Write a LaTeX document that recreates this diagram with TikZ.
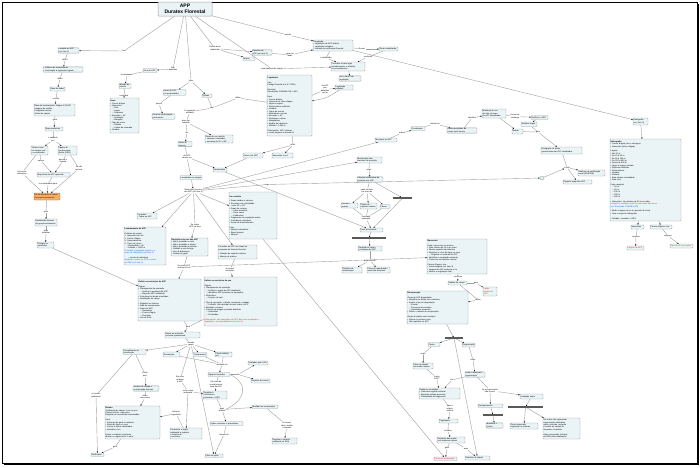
\documentclass[tikz,border=0pt]{standalone}
\usepackage{fontspec}
\setmainfont{Liberation Sans}
\usetikzlibrary{arrows.meta}
\definecolor{bxfill}{HTML}{EAF3F5}
\definecolor{bxdraw}{HTML}{98A4A8}
\definecolor{lncol}{HTML}{A0A0A0}
\definecolor{orfill}{HTML}{F9AE6B}
\definecolor{rtxt}{HTML}{E8232A}
\definecolor{btxt}{HTML}{2060D8}
\pgfdeclarelayer{back}
\pgfdeclarelayer{bg}
\pgfsetlayers{back,bg,main}
\newcommand\tn{\fontsize{2}{2.4}\selectfont}
\tikzset{
 box/.style={draw=bxdraw, fill=bxfill, line width=0.35pt, rounded corners=0.8pt, inner xsep=0.7pt, inner ysep=0.5pt, font=\tn, align=left},
 lbl/.style={inner sep=0.3pt, font=\tn, align=center},
 ln/.style={draw=lncol, line width=0.4pt},
 ar/.style={ln, -{Stealth[length=1.5pt,width=1.3pt,black]}},
 bar/.style={fill=black!65, inner sep=0pt, minimum height=1.3pt},
}
\newcommand\bx[7][]{%
 \pgfmathsetmacro\bw{#5-#3}\pgfmathsetmacro\bh{#6-#4}\pgfmathsetmacro\tw{#5-#3-1.4}%
 \node[box,#1,minimum width=\bw pt,minimum height=\bh pt,text width=\tw pt] (#2) at ({(#3+#5)/2},{(#4+#6)/2}) {#7};}
\newcommand\lb[4]{\node[lbl] (#1) at (#2,#3) {#4};}
\newcommand\br[4]{\pgfmathsetmacro\bw{#3-#2}\node[bar,minimum width=\bw pt] (#1) at ({(#2+#3)/2},#4) {};}
\newcommand\cnL[2]{\draw[ln] (#1)--(#2);}
\newcommand\cnA[2]{\draw[ar] (#1)--(#2);}
\begin{document}
\begin{tikzpicture}[x=1pt,y=-1pt]
\useasboundingbox (0,0) rectangle (700,467);
\begin{pgfonlayer}{back}
\fill[white] (0,0) rectangle (700,467);
\end{pgfonlayer}
\draw[line width=0.9pt] (2,2) rectangle (697,463);
\draw[line width=1.6pt] (3.5,464.3) -- (698.3,464.3) -- (698.3,3.5);

% title
\node[box,align=center,minimum width=54pt,minimum height=14pt,font=\fontsize{5}{5.8}\selectfont\bfseries,line width=0.5pt] (T) at (185,9) {APP\\Duratex Florestal};

% left column
\lb{J0}{124}{51}{tem}
\bx{A}{58}{48}{79}{53}{Levantar as APP\\(ver item 1)}
\lb{L41}{65}{60}{define}
\bx{Ba}{43}{67}{83}{72}{• Critérios de levantamento\\• Contemplar a legislação vigente}
\lb{L42}{60}{79}{utiliza}
\bx{Bb}{50}{87}{65}{91}{Base de dados}
\lb{L43}{56}{99}{contém}
\bx{Bc}{34}{104}{75}{116}{Base de levantamento: Mapas 1:10.000\\Imagens de satélite\\Fotografias aéreas\\Visitas de campo}
\lb{L44}{55}{120}{gera}
\bx{Bd}{45}{127}{63}{131}{Mapa preliminar}
\lb{L45}{53}{139.5}{é validado\\por}
\bx{Be}{31}{146}{48}{155}{Técnico local\\em campo com\\o coordenador}
\bx{Bf}{58}{146}{77}{155}{Equipe de\\geoprocessa-\\mento (GEO)}
\lb{L46}{22}{173}{Se houver\\alterações}
\lb{L47}{41}{161}{aprova}
\lb{L48}{63}{161}{aprova e\\registra}
\lb{L49}{79}{168.5}{Se não\\aprovar}
\bx{Bg}{37}{172.5}{70}{177}{Mapa final de APP aprovado}
\lb{L50}{48}{184}{é encaminhado para}
\bx[fill=orfill,draw=orange!80!black]{O}{34}{193}{60}{200}{Se há alteração no mapa\\de geoprocessamento}
\lb{L51}{46}{212}{gera}
\bx{Bh}{35}{219}{57}{226}{Atualização da base\\de geoprocessamento}
\lb{L52}{46}{232}{após\\atualizar}
\bx{Bi}{37}{242}{54}{248}{Divulgar às\\operações}

% area cluster
\lb{L2}{173}{69}{São\\definidas}
\bx{B1}{143}{68.5}{157}{72.5}{Área de APP}
\lb{L78}{127}{75}{levantamento}
\bx{Bm}{119}{83.5}{131}{88.5}{Método de\\cálculo}
\lb{L79}{124}{95.5}{considera}
\bx{Blist}{110}{98}{139}{133}{\textbf{Itens}\\• Cursos d'água\\• Nascentes\\\hspace*{2pt}– Rios\\\hspace*{2pt}– Lagos\\\hspace*{2pt}– Represas\\• Encostas > 45°\\\hspace*{2pt}– Restingas\\\hspace*{2pt}– Mangues\\• Topo de morro\\\hspace*{2pt}– Altitude\\\hspace*{2pt}– Linhas de cumeada\\• Veredas}
\lb{L3}{191}{81}{tipos}
\bx{B2}{163}{90}{186}{95}{Áreas de APP\\em propriedades}
\bx{B3}{202}{94}{212}{97.5}{Divisas}
\lb{L4}{159}{104}{possui}
\bx{B4}{152}{114}{175}{119}{Áreas de preservação\\permanente}
\lb{L8}{238}{98}{define}
\lb{L5}{212}{108}{com}
\lb{L6}{190}{112}{A vegetação\\existente}
\lb{L7}{186}{122}{deve ser\\mantida}
\lb{L77}{187}{133}{em}
\bx{B5}{178}{141.5}{192}{146.5}{Áreas de\\reserva}
\bx{B6}{205}{135}{233}{143}{Áreas de uso restrito:\\• várzeas e banhados\\• encostas de 25° a 45°}
\lb{Las}{187}{157}{As APP\\devem ser}
\bx{Bd2}{213}{168}{227}{172}{Demarcadas}
\bx{Be2}{180}{175.5}{202}{179.5}{Levantadas em campo}
\lb{H}{193.5}{191}{Restrições para uso\\das APP (ver item 4)}
\bx{B78}{243}{153}{263}{158}{Áreas com APP}
\bx{B77}{272}{153}{293}{158}{Nascentes e rios}
\lb{L75}{293}{145}{inclui}
\bx{Bbig}{267}{75}{312}{136}{\textbf{Legislação}\\~\\Leis\\Código Florestal (Lei 4.771/65)\\~\\Decretos\\Resoluções CONAMA 302 e 303\\~\\Itens\\• Cursos d'água\\• Nascentes e olhos d'água\\• Lagos e lagoas\\• Reservatórios artificiais\\• Veredas\\• Topos de morros\\• Montanhas e serras\\• Encostas > 45°\\• Restingas e dunas\\• Manguezais\\• Bordas de tabuleiros\\• Altitude > 1.800 m\\~\\Observação: APP urbanas\\e rurais seguem a mesma lei}
\lb{L73}{325}{89.5}{As APP\\são\\definidas\\por lei}
\bx{B75}{335}{85}{353}{90}{Legislação\\estadual}
\lb{L74}{326}{98}{e}

% top right
\lb{L9}{215}{48.5}{Novas áreas\\adquiridas}
\bx{B7}{252}{50}{272}{55}{Relatório de\\APP (ver item 5)}
\bx{B8}{243}{57}{255}{60.5}{Mapas}
\lb{L10}{290}{55}{gera um\\laudo}
\lb{L11}{288}{35}{atende}
\lb{L12}{272}{69}{Levantamento de campo}
\bx{B9}{313}{40}{353}{51}{Regulação:\\• Legislação de APP federal\\• Legislação estadual\\• Normas de certificação florestal}
\lb{L13}{326}{58}{é atualizada}
\bx{B10}{331}{62}{365}{71}{Consultar a base legal\\periodicamente e atualizar\\os procedimentos}
\bx{B11}{339}{76}{361}{81}{Ver o item 2 de\\legislação}
\lb{L14}{362}{49}{Exceto}
\bx{B12}{379}{47}{398}{51}{Áreas cadastradas}
\lb{L15}{368}{57}{conforme}

% hydro
\bx{B13}{633}{118}{648}{125}{Hidrografia\\(ver item 3)}
\bx{B14}{610}{139}{681}{221}{\textbf{Hidrografia}\\• Cursos d'água (rios e córregos)\\• Nascentes (olhos d'água)\\~\\Largura\\• Até 10 m\\• De 10 a 50 m\\• De 50 a 200 m\\• De 200 a 600 m\\• Acima de 600 m\\• Lagos e lagoas naturais\\• Represas artificiais\\• Reservatórios\\• Veredas\\• Várzeas\\• Área urbana consolidada\\• Área rural\\~\\Faixa marginal\\\hspace*{2pt}– 30 m\\\hspace*{2pt}– 50 m\\\hspace*{2pt}– 100 m\\\hspace*{2pt}– 200 m\\\hspace*{2pt}– 500 m\\~\\• Nascentes: raio mínimo de 50 m ao redor\\\textcolor{rtxt}{a largura é medida a partir do nível mais alto do rio}\\\textcolor{btxt}{(ver Resolução CONAMA 303)}\\~\\• Medir a largura do rio no período de cheia\\• Usar o mapa de hidrografia\\~\\• Dúvidas: consultar o GEO}
\bx{B15}{631}{225}{644}{229}{Nascentes}
\bx{B16}{650}{225}{672}{229}{Cursos d'água e rios}
\lb{L17}{636}{237}{seguem}
\lb{L18}{668}{236}{seguem}
\bx[text=rtxt]{R1}{627}{246}{644}{250}{Largura de APP}
\bx[text=rtxt]{R2}{670}{244}{693}{248}{Raio de 50 m ao redor}

% middle right
\bx{B17}{482}{109}{506}{118}{Mudança de uso\\do solo em área\\de APP identificada}
\lb{L19}{515}{116.5}{Se houver\\mudança}
\bx{B18}{531}{115.5}{548}{119.5}{Notificar o GEO}
\bx{B20}{521}{122}{537}{126.5}{Atualizar mapa}
\bx{B19}{512}{129}{523}{134}{Mapas}
\lb{L20}{538}{132}{gera}
\bx{B21}{541}{147}{582}{154}{Divulgação às áreas\\operacionais das APP atualizadas}
\lb{J1}{567}{167.5}{é feita}
\bx{B22}{578}{170}{605}{176}{Auditoria de certificação\\anual (NOSPRE)}
\bx{B23}{563}{180}{592}{184}{Registro anual das APP}
\node[circle,draw=bxdraw,fill=bxfill,minimum size=4pt,inner sep=0pt] (C1) at (542,178) {};
\bx{B24}{411}{126.5}{425}{130.5}{Fiscalização}
\lb{L21}{435}{124}{através de}
\bx{B25}{447}{128}{477}{133}{Visitas periódicas de\\campo pelo técnico}
\lb{L22}{472}{118}{identifica}
\lb{L23}{402}{133}{realiza}
\bx{B26}{375}{138}{397}{142}{Monitorar as APP}

% middle
\bx{B27}{357}{157}{382}{163}{Manutenção das\\barreiras de proteção}
\lb{L24}{369}{169.5}{exige}
\bx{B28}{357}{177}{383}{182}{Planejar as barreiras de\\proteção nas APP}
\lb{L25}{367}{191}{pode ser feito\\por meio de}
\bx{B29}{341}{203}{358}{208}{Cercas e\\aceiros}
\bx{B30}{360}{203}{377}{209}{Plantio de\\espécies nativas}
\bx{B31}{380}{204.5}{390}{208.5}{Placas}
\br{K1}{393}{412}{198}
\lb{L26}{366}{218}{resultado\\esperado}
\bx{B32}{360}{228}{383}{232}{Fixar as barreiras}
\br{K2}{352}{386}{238}
\bx{B33}{358}{246}{382}{251}{Registrar as ações\\no sistema de APP}
\lb{L27}{370}{260.5}{para controle}
\bx{B34}{342}{267}{362}{273}{Relatório de\\manutenção}
\bx{B35}{367}{267}{390}{273}{Plano de manutenção\\anual das barreiras}
\lb{L28}{267}{184.5}{exige}

% lower right
\bx{B36}{427}{239}{487}{274}{\textbf{Nascentes}\\~\\Isolar com cercas ou aceiros\\• Raio mínimo de 50 m ao redor\\• Mesmo quando intermitentes\\• Monitorar o nível da água na seca\\\hspace*{2pt}– Registrar no sistema de APP\\• Identificar a vegetação existente\\• Conservar as espécies nativas\\~\\Cursos d'água e rios\\• Faixa marginal (ver item 3)\\• Largura da APP conforme o rio\\• Manter a vegetação ciliar}
\lb{L29}{458}{277}{conforme}
\bx{B37}{448}{281}{467}{285}{Análise de campo}
\lb{L30}{476}{283}{gera}
\bx[text=rtxt]{R3}{483}{287}{497}{296}{Laudo\\técnico de\\APP}
\lb{L31}{478}{300}{define}
\bx{B38}{407}{291}{468}{324}{\textbf{Recuperação}\\~\\Áreas de APP degradadas\\• Identificar as áreas sem cobertura\\• Avaliar o tipo de degradação\\\hspace*{2pt}– Erosão\\\hspace*{2pt}– Presença de eucalipto\\\hspace*{2pt}– Gramíneas invasoras\\• Definir o método de recuperação\\~\\Áreas de plantio com eucalipto\\• Retirar no próximo corte\\• Não replantar na APP}
\br{K3}{445}{463}{338}
\bx{B41}{428}{342.5}{440}{346.5}{Plantio}
\bx{B42}{462}{343}{475}{347}{Regeneração}
\lb{L33}{423}{354}{exige}
\lb{L34}{473}{360}{exige}
\bx{B43}{413}{363}{433}{369}{Plano de plantio\\de mudas nativas}
\bx{B44}{465}{372}{485}{377}{Isolar a área para\\regeneração}
\lb{L35}{437}{378}{existe\\APP?}
\lb{L36}{452}{380}{sim}
\lb{L37}{490}{390.5}{Se a regeneração\\não ocorrer}
\bx{B45}{419}{388}{460}{399}{Avaliar as condições:\\• Cobertura vegetal existente\\• Espécies nativas presentes\\• Proximidade de fragmentos}
\bx{B46}{478}{404}{503}{407.5}{Enriquecimento}
\br{K5}{483}{503}{415}
\bx{B50}{486}{423}{503}{428}{Monitorar o\\plantio}
\bx{B47}{520}{394}{543}{399}{Avaliação anual}
\br{K4}{508}{543}{407}
\bx{B48}{510}{423}{538}{429}{Área recuperada\\registrada no sistema}
\bx{B49}{543}{418}{580}{439}{Se a área não apresentar\\regeneração satisfatória\\após o período, replantar\\e avaliar as causas do\\insucesso no plantio\\~\\Após recuperada, informar\\ao GEO para atualização}
\lb{L38}{450}{408.5}{após o\\plantio,\\verificar}
\bx{B51}{439}{419}{458}{423}{Pegamento}
\lb{L39}{448}{431}{se baixo}
\bx{B52}{437}{437}{465}{443}{Replantio das mudas\\com espécies nativas}
\lb{L40}{447}{448.5}{gera}
\lb{L41b}{466}{448.5}{após}
\bx[text=rtxt]{R4}{434}{457}{457}{460.5}{Custo de recuperação}
\bx{B53}{465}{456}{490}{460}{Relatório de plantio}

% left middle
\bx{Bcons}{137}{213}{157}{219}{Consultar:\\• Todas as APP}
\bx{B39}{124}{227}{166}{265}{\textbf{Levantamento de APP}\\~\\Critérios de campo:\\1. Nascentes de rios\\2. Cursos d'água\\3. Represamentos\\4. Topos de morro\\\hspace*{2pt}– Declividade > 45°\\\hspace*{2pt}– Altitude > 1.800 m\\\textcolor{btxt}{Consultar a legislação vigente e o}\\\textcolor{btxt}{mapa de hidrografia (ver item 3)}\\~\\\hspace*{4pt}• Locais de referência\\\textcolor{btxt}{Registrar o ponto no GPS e enviar}\\\textcolor{btxt}{ao GEO (ver item 1)}}
\lb{L54}{195}{225.5}{Se existe\\APP na área}
\bx{B55}{171}{238}{208}{256}{\textbf{Restrições de uso das APP}\\• Não é permitido o corte\\• Não é permitido o plantio\\• Não é permitida a colheita\\• Proibido o uso de fogo\\• Uso de defensivos\\• Pastejo de gado}
\lb{L32}{184}{267}{Se existir APP\\na área de uso}
\bx{B56}{229}{192}{277}{239}{\textbf{Uso restrito}\\~\\• Áreas úmidas e várzeas\\• Encostas com declividade\\\hspace*{2pt}entre 25° e 45°\\• Áreas de recarga\\\hspace*{2pt}– Solos arenosos\\\hspace*{2pt}– Solos rasos\\\hspace*{2pt}– Cabeceiras\\• Fragmentos de vegetação nativa\\• Corredores ecológicos\\• Zonas de amortecimento\\~\\Usos\\• Manejo sustentável\\• Baixo impacto\\• Manual}
\bx{B57}{218}{245}{257}{259}{Consultar as APP nas áreas do\\programa de fomento florestal\\~\\• Relação de espécies nativas\\• Manejo de nativas}
\lb{L56}{230}{270}{se houver\\restrições}
\bx{B54}{138}{279}{201}{321}{\textbf{Definir as restrições de APP}\\~\\Etapas\\• Planejamento da operação\\\hspace*{2pt}– Verificar a presença de APP\\\hspace*{2pt}– Mapa de APP atualizado\\• Comunicar às áreas envolvidas\\• Sinalização de campo\\~\\• Registrar no sistema\\• Data do levantamento\\• Áreas de APP\\\hspace*{2pt}– Nascentes\\\hspace*{2pt}– Cursos d'água\\\hspace*{2pt}– Encostas\\• Uso do SGA}
\bx{B40}{204}{277}{277}{326}{\textbf{Definir as restrições de uso}\\~\\Etapas\\• Planejamento da operação\\\hspace*{2pt}– Verificar o mapa de APP atualizado\\\hspace*{2pt}– Identificar APP próximas às operações\\• Silvicultura\\\hspace*{2pt}– Preparo de solo\\~\\• Tipo de operação: colheita, transporte, estradas\\\hspace*{2pt}– Colheita: não derrubar árvores sobre a APP\\• Estradas e aceiros\\• Controle de pragas e plantas daninhas\\\hspace*{2pt}– Herbicidas\\\hspace*{2pt}– Formicidas\\~\\\textcolor{rtxt}{Observação: nas operações em APP deve ser respeitada a}\\\textcolor{rtxt}{legislação e os procedimentos (ver item 2)}}

% lower left
\lb{L58}{188}{327}{gera}
\bx{B58}{165}{332}{200}{338}{Enviar as restrições\\às áreas operacionais}
\lb{L59}{191}{344}{normas\\gerais}
\bx{B59}{123}{349}{146}{354.5}{Procedimento de\\fiscalização}
\bx{B60}{163}{352}{180}{357}{Orientações}
\bx{B61}{193}{352.5}{207}{356.5}{Treinamentos}
\bx{B62}{215}{352.5}{232}{356.5}{Placas indicativas}
\lb{L67}{222}{364.5}{resultam em}
\bx{B67}{208}{372.5}{230}{376.5}{Equipes treinadas}
\lb{L68}{238}{374.5}{são}
\bx{B68}{248}{361}{268}{365}{Avaliados pelo SGA}
\bx{B69}{251}{379}{270}{383}{Registro de treinos}
\lb{L69}{216}{384.5}{Em caso de\\ocorrência em\\área de APP}
\bx{B70}{203}{391}{227}{399}{Registrar a\\ocorrência e\\comunicar o GEO}
\lb{L70}{222}{409.5}{após\\análise}
\bx{B71}{252}{405}{278}{408.5}{Medidas de recuperação}
\lb{L71}{287}{425.5}{se houver\\dano, avaliar\\o impacto}
\bx{B72}{272}{438}{297}{444}{Registrar o impacto\\ambiental no SGA}
\bx{B73}{210}{421.5}{243}{425.5}{Ações corretivas e preventivas}
\lb{L72}{224}{434.5}{através do}
\bx{B74}{205}{454}{223}{457.5}{Plano de ação}
\lb{L65}{180}{379.5}{Em caso\\de dano\\à APP}
\lb{L66}{188}{391.5}{se for crime\\ambiental}
\bx{B66}{170}{428}{202}{439}{Comunicar o órgão\\ambiental e registrar\\o boletim de\\ocorrência}
\lb{L64}{176}{413.5}{informar\\à gerência}
\lb{L60}{145}{374.5}{é feito\\pelo}
\bx{B63}{133}{386}{159}{391}{Técnico de campo e\\coordenação florestal}
\lb{L61}{145}{397}{utiliza\\como base}
\bx{B64}{105}{406}{160}{439}{\textbf{Roteiro}\\Verificação de campo 1 vez ao ano\\Pontos críticos: nascentes\\Registrar as ocorrências encontradas\\~\\Itens\\• Presença de gado ou animais\\• Sinais de fogo ou corte\\• Cercas e placas danificadas\\• Invasões e lixo\\~\\Enviar o relatório à gerência\\Manter os registros por 5 anos}
\lb{L62}{96}{395.5}{se houver\\problemas}
\lb{L63}{115}{447}{gera}
\bx{B65}{91}{453}{104}{456.5}{Notificação}

\begin{pgfonlayer}{bg}
% left column
\cnL{T}{J0}\cnA{J0}{A}
\cnL{A}{L41}\cnA{L41}{Ba}
\cnL{Ba}{L42}\cnA{L42}{Bb}
\cnL{Bb}{L43}\cnA{L43}{Bc}
\cnL{Bc}{L44}\cnA{L44}{Bd}
\cnL{Bd}{L45}\cnA{L45}{Be}\cnA{L45}{Bf}
\cnL{Be}{L47}\cnA{L47}{Bg}
\cnL{Bf}{L48}\cnA{L48}{Bg}
\cnL{Be}{L46}\cnA{L46}{O}
\cnL{Bf}{L49}\cnA{L49}{O}
\cnL{Bg}{L50}\cnA{L50}{O}
\cnL{O}{L51}\cnA{L51}{Bh}
\cnL{Bh}{L52}\cnA{L52}{Bi}
\cnA{Bi}{B54}
% area cluster
\cnL{T}{L2}\cnA{L2}{B1}
\cnL{B1}{L78}\cnA{L78}{Bm}
\cnL{Bm}{L79}\cnA{L79}{Blist}
\cnL{T}{L3}\cnA{L3}{B2}\cnA{L3}{B3}
\cnL{B2}{L4}\cnA{L4}{B4}
\cnL{Bbig}{L8}\cnL{L8}{L5}\cnL{B3}{L5}\cnL{L5}{L6}
\cnL{L6}{L7}\cnL{L7}{L77}\cnA{L77}{B5}\cnA{L7}{B6}
\cnL{B5}{Las}\cnA{Las}{Be2}\cnA{Las}{Bd2}
\cnA{Be2}{H}
\cnA{B78}{Bd2}
\draw[ar] (Bd2) -- (B32);
\cnL{Bbig}{L75}\cnA{L75}{B77}\cnA{L75}{B78}
\cnL{Bbig}{L73}\cnA{L73}{B75}\cnL{B75}{L74}\cnA{L74}{Bbig}
% top right
\cnL{T}{L9}\cnA{L9}{B7}\cnA{L9}{B8}
\cnL{B7}{L10}\cnA{L10}{B9}
\cnL{T}{L11}\cnA{L11}{B9}
\cnL{T}{L12}\cnA{L12}{B10}
\cnL{B9}{L13}\cnA{L13}{B10}\cnA{B10}{B11}
\cnL{B9}{L14}\cnA{L14}{B12}
\cnL{B12}{L15}\cnA{L15}{B10}
\cnA{B9}{B13}\cnA{B13}{B14}
\cnA{B14}{B15}\cnA{B14}{B16}
\cnL{B15}{L17}\cnA{L17}{R1}
\cnL{B16}{L18}\cnA{L18}{R2}
% hub
\cnA{H}{Bcons}\cnA{H}{B39}
\cnL{H}{L54}\cnA{L54}{B55}
\cnA{H}{B56}\cnA{H}{B57}
\cnA{H}{B27}\cnA{H}{B26}
\cnL{H}{L28}\cnA{L28}{C1}
\cnA{C1}{J1}
\draw[ar] ([xshift=10pt]B56.south) -- (R4);
% middle right
\cnL{B26}{L23}\cnA{L23}{B24}
\cnL{B24}{L21}\cnA{L21}{B25}
\cnL{B25}{L22}\cnA{L22}{B17}
\cnL{B17}{L19}\cnA{L19}{B18}
\cnA{B18}{B20}\cnA{B17}{B19}
\cnL{B20}{L20}\cnL{B19}{L20}\cnA{L20}{B21}
\cnL{B21}{J1}\cnA{J1}{B22}\cnA{J1}{B23}
% middle
\cnL{B27}{L24}\cnA{L24}{B28}
\cnL{B28}{L25}\cnA{L25}{B29}\cnA{L25}{B30}\cnA{L25}{B31}
\cnA{B28}{K1}
\cnL{B29}{L26}\cnL{B30}{L26}\cnL{B31}{L26}
\cnA{L26}{B32}\cnA{K1}{B32}
\cnA{B32}{K2}\cnA{K2}{B33}
\cnL{B33}{L27}\cnA{L27}{B34}\cnA{L27}{B35}
% lower right
\cnL{B55}{L32}\cnA{L32}{B36}\cnA{L32}{B54}
\cnL{B57}{L56}\cnA{L56}{B40}
\cnL{B36}{L29}\cnA{L29}{B37}
\cnL{B37}{L30}\cnA{L30}{R3}
\cnL{B37}{L31}\cnA{L31}{B38}
\cnA{B38}{K3}
\cnA{K3}{B41}\cnA{K3}{B42}\cnA{K3}{B53}
\cnL{B41}{L33}\cnA{L33}{B43}
\cnL{B42}{L34}\cnA{L34}{B44}
\cnL{B43}{L35}\cnA{L35}{B45}
\cnL{B44}{L36}\cnA{L36}{B45}
\cnL{B44}{L37}\cnA{L37}{B47}\cnA{L37}{B46}
\cnA{B46}{K5}\cnA{K5}{B50}
\cnA{B47}{K4}\cnA{K4}{B48}\cnA{K4}{B49}
\cnL{B45}{L38}\cnA{L38}{B51}
\cnL{B51}{L39}\cnA{L39}{B52}
\cnL{B52}{L40}\cnA{L40}{R4}
\cnL{B52}{L41b}\cnA{L41b}{B53}
% lower left
\cnL{B54}{L58}\cnL{B40}{L58}\cnA{L58}{B58}
\cnL{B58}{L59}
\cnA{L59}{B59}\cnA{L59}{B60}\cnA{L59}{B61}\cnA{L59}{B62}\cnA{L59}{B74}
\cnL{B61}{L67}\cnL{B62}{L67}\cnL{B60}{L67}\cnA{L67}{B67}
\cnL{B67}{L68}\cnA{L68}{B68}\cnA{L68}{B69}
\cnL{B67}{L69}\cnA{L69}{B70}
\cnL{B70}{L70}\cnA{L70}{B71}
\cnL{B71}{L71}\cnA{L71}{B72}
\cnA{L70}{B73}
\cnL{B73}{L72}\cnA{L72}{B74}
\draw[ln] (B67.east) .. controls (250,385) and (245,400) .. (L70.east);
\cnL{L59}{L65}\cnL{L65}{L66}\cnA{L66}{B66}\cnA{L66}{B70}
\cnL{B66}{L64}\cnA{L64}{B64}
\cnL{B59}{L60}\cnA{L60}{B63}
\cnL{B63}{L61}\cnA{L61}{B64}
\cnL{B59}{L62}\cnA{L62}{B65}
\cnL{B64}{L63}\cnA{L63}{B65}
\end{pgfonlayer}
\end{tikzpicture}
\end{document}
